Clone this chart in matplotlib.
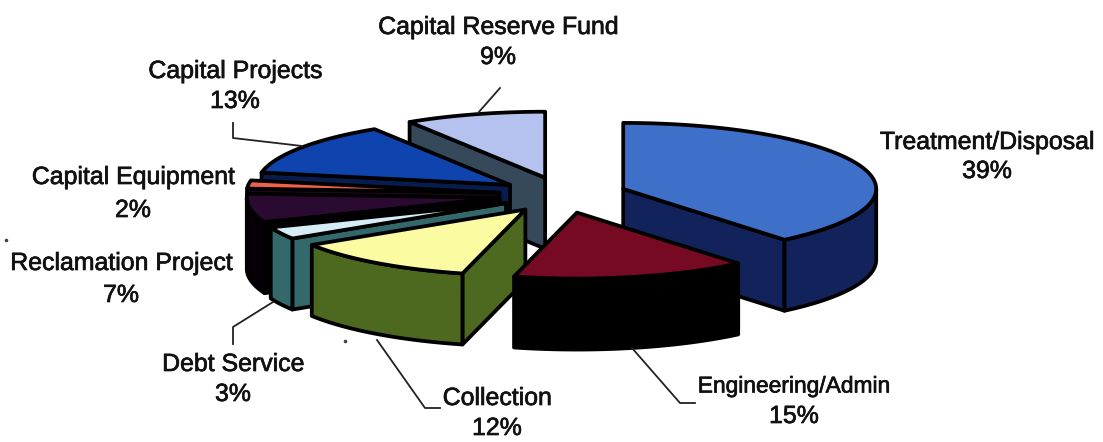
import numpy as np
import matplotlib
matplotlib.use("Agg")
import matplotlib.pyplot as plt
from matplotlib.patches import Polygon
import matplotlib.patheffects as pe

categories = ["Treatment/Disposal", "Engineering/Admin", "Collection", "Debt Service",
              "Reclamation Project", "Capital Equipment", "Capital Projects", "Capital Reserve Fund"]
shares = [39, 15, 12, 3, 7, 2, 13, 9]
top_colors = ["#3f70c9", "#760a22", "#fbfba2", "#d6edf7", "#2b0a32", "#f0604a", "#0f44ae", "#b5c1ee"]
side_colors = ["#12225a", "#000000", "#4d681f", "#33696b", "#060006", "#20061f", "#081c4e", "#35495a"]

# pie geometry, in pixels of the 1103x442 image
CX, CY = 563, 195
RX, RY = 253, 66
EX, EY = 64, 18
DEPTH = 71
LW = 2.7

# back to front
draw_order = [7, 6, 5, 4, 3, 2, 0, 1]

# label centre x, first line y, second line y
label_pos = {
    "Treatment/Disposal": (987, 142, 171),
    "Engineering/Admin": (794, 386, 416),
    "Collection": (497, 398, 428),
    "Debt Service": (233, 364, 394),
    "Reclamation Project": (121, 263, 295),
    "Capital Equipment": (133, 177, 210),
    "Capital Projects": (235, 71, 101),
    "Capital Reserve Fund": (498, 27, 57),
}
leaders = [
    [(478, 113), (500, 88)],
    [(233, 123), (233, 138), (302, 146)],
    [(233, 344), (233, 327), (273, 302)],
    [(377, 340), (425, 408), (440, 408)],
    [(632, 348), (680, 403), (695, 403)],
]

plt.rcParams["font.family"] = ["Liberation Sans", "DejaVu Sans"]
fig = plt.figure(figsize=(11.03, 4.42), dpi=100)
ax = fig.add_axes([0, 0, 1, 1])
ax.set_xlim(0, 1103)
ax.set_ylim(442, 0)
ax.axis("off")


def rim(ox, oy, angles):
    rad = np.radians(angles)
    return np.column_stack([ox + RX * np.sin(rad), oy - RY * np.cos(rad)])


def draw_slice(i, start, end):
    mid = np.radians((start + end) / 2)
    ox = CX + EX * np.sin(mid)
    oy = CY - EY * np.cos(mid)
    down = np.array([0, DEPTH])
    style = dict(edgecolor="black", linewidth=LW, joinstyle="round")

    # radial walls that face the viewer
    for ang, visible in ((start, np.sin(np.radians(start)) < -1e-6),
                         (end, np.sin(np.radians(end)) > 1e-6)):
        if visible:
            p = rim(ox, oy, [ang])[0]
            o = np.array([ox, oy])
            ax.add_patch(Polygon([o, p, p + down, o + down], facecolor=side_colors[i], **style))

    # outer wall, front half only
    a0, a1 = max(start, 90), min(end, 270)
    if a1 > a0:
        arc = rim(ox, oy, np.linspace(a0, a1, 40))
        ax.add_patch(Polygon(np.vstack([arc, arc[::-1] + down]), facecolor=side_colors[i], **style))

    # top face
    arc = rim(ox, oy, np.linspace(start, end, 80))
    ax.add_patch(Polygon(np.vstack([[ox, oy], arc]), facecolor=top_colors[i], **style))


edges = np.concatenate([[0], np.cumsum(shares)]) * 3.6
for i in draw_order:
    draw_slice(i, edges[i], edges[i + 1])

for path in leaders:
    xs, ys = zip(*path)
    ax.plot(xs, ys, color="#222222", lw=1.3)

# scan specks
ax.plot([345, 6], [341, 240], ls="none", marker="o", ms=1.6, color="#444444")

bold_ish = [pe.withStroke(linewidth=0.5, foreground="#111111")]
for name, share in zip(categories, shares):
    x, y1, y2 = label_pos[name]
    # this one label is set narrower in the scan
    size = 16.4 if name == "Engineering/Admin" else 17.9
    ax.text(x, y1, name, ha="center", va="center", fontsize=size, color="#111111", path_effects=bold_ish)
    ax.text(x, y2, f"{share}%", ha="center", va="center", fontsize=17.9, color="#111111", path_effects=bold_ish)

fig.savefig("out.png", dpi=100, facecolor="white")
